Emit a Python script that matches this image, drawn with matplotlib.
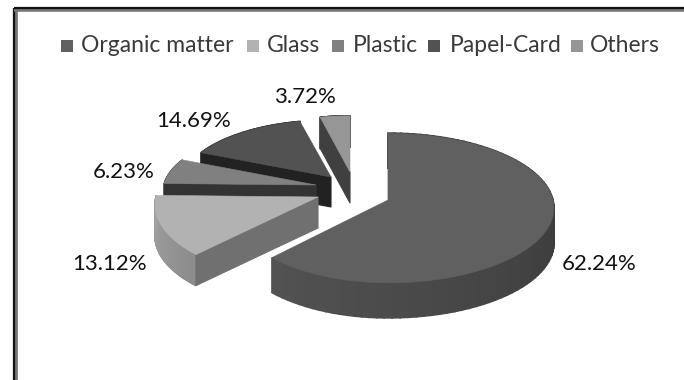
import numpy as np
import matplotlib
matplotlib.use("Agg")
import matplotlib.pyplot as plt
from matplotlib.patches import Polygon, Rectangle

labels = ["Organic matter", "Glass", "Plastic", "Papel-Card", "Others"]
shares = [62.24, 13.12, 6.23, 14.69, 3.72]
value_labels = ["62.24%", "13.12%", "6.23%", "14.69%", "3.72%"]

top_colors = ["#606060", "#b2b2b2", "#808080", "#525252", "#969696"]
cut_colors = ["#222222", "#707070", "#333333", "#222222", "#404040"]
rim_colors = [("#2c2c2c", "#525252"), ("#8c8c8c", "#a2a2a2"), ("#666666", "#666666"),
              ("#333333", "#333333"), ("#555555", "#555555")]

# where each exploded slice sits, in pixels
apex_x = [388, 318, 316, 331, 350]
apex_y = [200, 197, 185, 177, 172]
radius_left = [154, 162, 152, 148, 142]
radius_right = 165
radius_y = [74, 74, 65, 63, 62]
depth = [35, 31, 30, 30, 31]
tilt = 0.107

label_x = [599, 110, 124, 194, 305]
label_y = [264, 264, 172, 121, 97]

legend_box_x = [61, 247, 332, 428, 571]
legend_text_x = [81, 267, 353, 450, 590]


def project(i, theta):
    # tilted disc: the far side comes out a bit smaller than the near side
    u, v = np.sin(theta), np.cos(theta)
    w = 1 + tilt * v
    rx = np.where(u > 0, radius_right, radius_left[i])
    return apex_x[i] + rx * u / w, apex_y[i] - radius_y[i] * v / w


plt.rcParams["font.family"] = ["Lato", "DejaVu Sans"]
fig = plt.figure(figsize=(6.84, 3.8), dpi=100)
ax = fig.add_axes([0, 0, 1, 1])
ax.set_xlim(0, 684)
ax.set_ylim(380, 0)
ax.axis("off")

# frame
ax.plot([15, 15], [380, 9], color="#777777", lw=3.4, solid_capstyle="butt")
ax.plot([14, 14], [380, 8], color="#111111", lw=1.6, solid_capstyle="butt")
ax.plot([14, 684], [9.5, 9.5], color="#777777", lw=2.6, solid_capstyle="butt")
ax.plot([14, 684], [8, 8], color="#111111", lw=1.6, solid_capstyle="butt")

edges = np.cumsum([0] + shares) / sum(shares) * 2 * np.pi

# painted back to front so nearer slices hide the cut faces behind them
for i in [4, 3, 2, 1, 0]:
    thetas = np.linspace(edges[i], edges[i + 1], 90)
    d = depth[i]
    x0, y0 = project(i, edges[i])

    c0 = np.array(matplotlib.colors.to_rgb(rim_colors[i][0]))
    c1 = np.array(matplotlib.colors.to_rgb(rim_colors[i][1]))
    for j in range(len(thetas) - 1):
        xa, ya = project(i, thetas[j])
        xb, yb = project(i, thetas[j + 1])
        t = j / (len(thetas) - 2)
        col = c0 + (c1 - c0) * t
        ax.add_patch(Polygon([(xa, ya), (xb, yb), (xb, yb + d), (xa, ya + d)],
                             facecolor=col, edgecolor=col, lw=1.2))

    ax.add_patch(Polygon([(apex_x[i], apex_y[i]), (x0, y0), (x0, y0 + d),
                          (apex_x[i], apex_y[i] + d)],
                         facecolor=cut_colors[i], edgecolor=cut_colors[i], lw=0.8))

    xs, ys = project(i, thetas)
    pts = [(apex_x[i], apex_y[i])] + list(zip(xs, ys))
    ax.add_patch(Polygon(pts, facecolor=top_colors[i], edgecolor=top_colors[i], lw=0.4))

for i, name in enumerate(labels):
    ax.add_patch(Rectangle((legend_box_x[i], 40), 12, 12, facecolor=top_colors[i], edgecolor="none"))
    ax.text(legend_text_x[i], 45, name, fontsize=16.5, color="#3a3a3a", ha="left", va="center")

for i, txt in enumerate(value_labels):
    ax.text(label_x[i], label_y[i], txt, fontsize=16, color="#111111", ha="center", va="center")

fig.savefig("out.png", dpi=100)
